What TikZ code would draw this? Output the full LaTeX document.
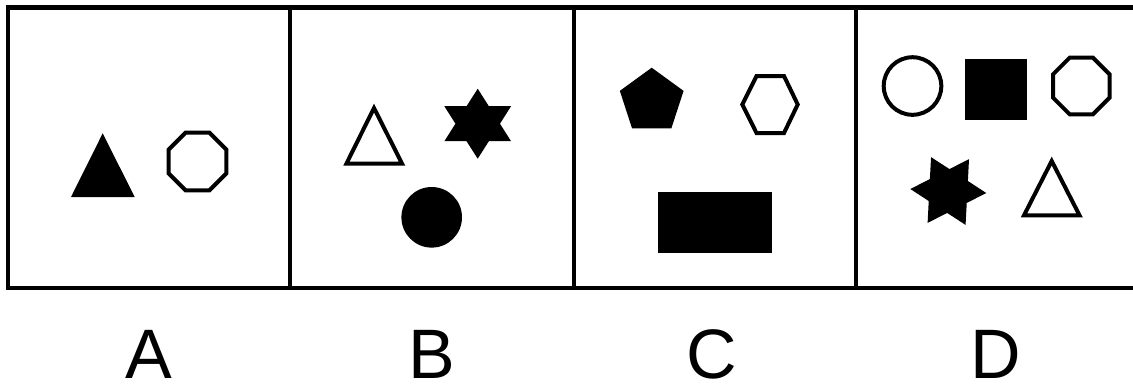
\documentclass[tikz,border=0pt]{standalone}
\usepackage{fontspec}
\setmainfont{Liberation Sans}
\usetikzlibrary{shapes.geometric}

\begin{document}
\begin{tikzpicture}[
    x = 0.5pt, % one pixel of the reference
    y = -0.5pt, % y runs downwards
    line join = miter, % sharp corners
    inner sep = 0pt
]
\tikzstyle{frame}=[
    draw = black,
    line width = 2.25pt
]
\tikzstyle{hollow}=[
    draw = black,
    fill = white,
    line width = 2pt
]
\tikzstyle{blackshape}=[
    fill = black
]
\tikzstyle{letter}=[
    font = \fontsize{35}{36}\selectfont,
    anchor = base
]

\useasboundingbox (0,0) rectangle (1133,388);

% the four boxes
\draw[frame] (8,7.5) rectangle (1140,288);
\foreach \x in {290,574,856}
    \draw[frame] (\x,7.5) -- (\x,288);

% box A
\fill[blackshape] (102.7,133.3) -- (134.7,197) -- (71,197) -- cycle;
\node[regular polygon, regular polygon sides=8, minimum size=31.2pt, hollow] (a-oct) at (197.5,161.5) {};

% box B
\draw[hollow] (374,108) -- (402,163.5) -- (346.5,163.5) -- cycle;
\node[star, star points=6, star point ratio=1.73, minimum size=35pt, blackshape, xscale=1.1] (b-star) at (477.7,123.7) {};
\node[circle, minimum size=30.3pt, blackshape] (b-dot) at (431.7,217.3) {};

% box C
\node[regular polygon, regular polygon sides=5, minimum size=33.5pt, blackshape] (c-pent) at (651.7,101.2) {};
\draw[hollow] (742.3,104.5) -- (756.5,76) -- (784,76) -- (797.7,104.5) -- (784,133) -- (756.5,133) -- cycle;
\node[rectangle, minimum width=57pt, minimum height=30.5pt, blackshape] (c-rect) at (715.3,222.8) {};

% box D
\node[circle, minimum size=28.8pt, hollow] (d-ring) at (912.5,86) {};
\node[rectangle, minimum width=30.85pt, minimum height=30.35pt, blackshape] (d-sq) at (995.8,89.7) {};
\node[regular polygon, regular polygon sides=8, minimum size=30.6pt, hollow] (d-oct) at (1081.3,86) {};
\node[star, star points=6, star point ratio=1.73, minimum size=38pt, blackshape, rotate=27] (d-star) at (948.3,191) {};
\draw[hollow] (1051.7,161) -- (1079.5,215.3) -- (1024,215.3) -- cycle;

% labels
\node[letter] (lab-a) at (148.5,378) {A};
\node[letter] (lab-b) at (432,378) {B};
\node[letter] (lab-c) at (712,378) {C};
\node[letter] (lab-d) at (996,378) {D};

\end{tikzpicture}
\end{document}
